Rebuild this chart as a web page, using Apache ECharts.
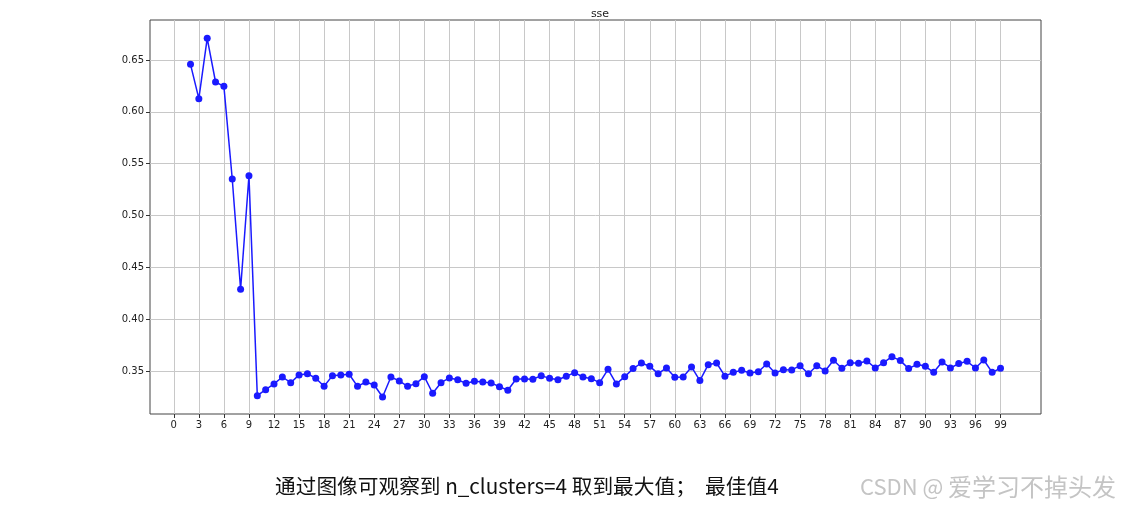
<!DOCTYPE html>
<html><head><meta charset="utf-8">
<script src="https://cdn.jsdelivr.net/npm/echarts@6/dist/echarts.min.js"></script>
<style>html,body{margin:0;padding:0;background:#fff}#c{width:1128px;height:506px}</style>
</head><body><div id="c"></div>
<script>
const kValues = [];
for (let k = 2; k <= 99; k++) kValues.push(k);
const sseValues = [
0.6458,0.6127,0.6709,0.6288,0.6246,0.5352,0.4288,0.5384,
0.3262,0.3320,0.3375,0.3442,0.3387,0.3462,0.3474,0.3430,0.3352,0.3455,
0.3462,0.3468,0.3352,0.3394,0.3365,0.3249,0.3442,0.3404,0.3352,0.3378,
0.3445,0.3285,0.3387,0.3433,0.3416,0.3381,0.3400,0.3394,0.3384,0.3349,
0.3314,0.3423,0.3423,0.3420,0.3455,0.3429,0.3416,0.3449,0.3484,0.3442,
0.3426,0.3387,0.3516,0.3375,0.3445,0.3523,0.3577,0.3545,0.3474,0.3529,
0.3439,0.3442,0.3539,0.3407,0.3561,0.3577,0.3450,0.3487,0.3506,0.3481,
0.3493,0.3568,0.3481,0.3513,0.3510,0.3551,0.3474,0.3551,0.3500,0.3603,
0.3526,0.3580,0.3574,0.3597,0.3529,0.3580,0.3638,0.3600,0.3523,0.3564,
0.3545,0.3487,0.3587,0.3529,0.3571,0.3593,0.3529,0.3606,0.3487,0.3526
];
const xTicks = [];
for (let t = 0; t <= 99; t += 3) xTicks.push(t);
const yTicks = [0.35,0.40,0.45,0.50,0.55,0.60,0.65];
const titleText = 'sse';
const captionText = '通过图像可观察到 n_clusters=4 取到最大值；  最佳值4';
const watermarkLatin = 'CSDN @';
const watermarkCJK = '爱学习不掉头发';

const chart = echarts.init(document.getElementById('c'), null, {renderer:'canvas'});
const labelStyle = {color:'#222', fontSize:10, fontFamily:'DejaVu Sans'};
chart.setOption({
  animation:false,
  title:{text:titleText, left:595, top:4, textAlign:'center',
    textStyle:{fontSize:11, fontWeight:'normal', color:'#222', fontFamily:'DejaVu Sans'}},
  grid:{left:150, right:87, top:20, bottom:92, show:true, borderColor:'#444', borderWidth:1},
  xAxis:{type:'value', min:-2.85, max:103.85,
    axisLine:{show:false, onZero:false},
    axisTick:{show:true, inside:false, length:4, lineStyle:{color:'#333'}, customValues:xTicks},
    axisLabel:{...labelStyle, margin:6, customValues:xTicks, formatter:v=>String(v)},
    splitLine:{show:true, lineStyle:{color:'#c8c8c8', width:1}}},
  yAxis:{type:'value', min:0.3085, max:0.6886,
    axisLine:{show:false, onZero:false},
    axisTick:{show:true, inside:false, length:4, lineStyle:{color:'#333'}, customValues:yTicks},
    axisLabel:{...labelStyle, margin:6, customValues:yTicks, formatter:v=>v.toFixed(2)},
    splitLine:{show:true, lineStyle:{color:'#c8c8c8', width:1}}},
  series:[{type:'line', data:kValues.map((k,i)=>[k,sseValues[i]]),
    symbol:'circle', symbolSize:7, showAllSymbol:true,
    lineStyle:{color:'#1a1aff', width:1.5}, itemStyle:{color:'#1a1aff'}}],
  graphic:[
    {type:'text', left:275, top:476, style:{text:captionText, fill:'#111', fontSize:20.7, fontFamily:'Noto Sans CJK SC'}},
    {type:'text', x:860, y:487, style:{text:watermarkLatin, fill:'#c4c4c4', fontSize:22, fontFamily:'Noto Sans CJK SC', verticalAlign:'middle'}},
    {type:'text', x:948, y:487, style:{text:watermarkCJK, fill:'#c4c4c4', fontSize:24, fontFamily:'Noto Sans CJK SC', verticalAlign:'middle'}}
  ]
});
</script></body></html>
